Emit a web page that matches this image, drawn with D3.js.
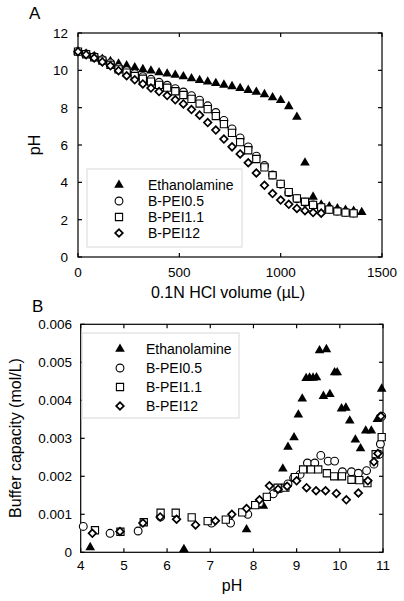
<!DOCTYPE html>
<html><head><meta charset="utf-8">
<script src="https://cdn.jsdelivr.net/npm/d3@7"></script>
<style>body{margin:0;background:#fff}svg{display:block}text{font-family:"Liberation Sans",Arial,sans-serif;fill:#000}</style>
</head><body>
<svg id="c" width="404" height="601"></svg>
<script>
// ---------- Panel A data: pH vs 0.1N HCl volume (µL) ----------
const volEthanol = [0,40,80,120,160,200,240,280,320,360,400,440,480,520,560,600,640,680,720,760,800,840,880,920,960,1000,1040,1080,1120,1160,1200,1240,1280,1320,1360,1400];
const phEthanol  = [11.0,10.88,10.75,10.6,10.48,10.35,10.25,10.15,10.05,9.98,9.88,9.82,9.75,9.67,9.56,9.47,9.39,9.31,9.22,9.14,9.04,8.94,8.84,8.71,8.54,8.4,8.07,7.5,5.05,3.22,2.8,2.7,2.6,2.52,2.46,2.4];
const volPEI05 = [0,40,80,120,160,200,240,280,320,360,400,440,480,520,560,600,640,680,720,760,800,840,880,920,960,1000,1040,1080,1120,1160,1200,1240,1280,1320,1360];
const phPEI05  = [11.0,10.88,10.73,10.57,10.4,10.15,9.98,9.82,9.66,9.52,9.36,9.2,9.02,8.84,8.64,8.4,8.1,7.74,7.32,6.86,6.38,5.9,5.4,4.9,4.4,3.9,3.45,3.12,2.93,2.79,2.67,2.55,2.46,2.4,2.36];
const volPEI11 = [0,40,80,120,160,200,240,280,320,360,400,440,480,520,560,600,640,680,720,760,800,840,880,920,960,1000,1040,1080,1120,1160,1200,1240,1280,1320,1360];
const phPEI11  = [11.0,10.86,10.7,10.52,10.3,10.05,9.88,9.7,9.55,9.4,9.22,9.07,8.88,8.68,8.47,8.22,7.92,7.55,7.12,6.65,6.15,5.72,5.25,4.8,4.38,3.92,3.48,3.14,2.96,2.79,2.66,2.54,2.44,2.38,2.34];
const volPEI12 = [0,40,80,120,160,200,240,280,320,360,400,440,480,520,560,600,640,680,720,760,800,840,880,920,960,1000,1040,1080,1120,1160,1200];
const phPEI12  = [11.0,10.84,10.66,10.45,10.24,9.98,9.71,9.49,9.27,9.05,8.86,8.65,8.42,8.2,7.9,7.6,7.2,6.8,6.32,5.9,5.52,5.05,4.5,3.84,3.4,3.05,2.82,2.6,2.48,2.38,2.35];
const ticksA_x = [0,500,1000,1500];
const ticksA_y = [0,2,4,6,8,10,12];

// ---------- Panel B data: buffer capacity (mol/L) vs pH ----------
const bpHEthanol = [4.22,6.39,7.84,8.23,8.68,8.8,8.94,9.04,9.13,9.22,9.3,9.38,9.46,9.53,9.69,9.62,9.77,9.88,9.94,10.04,10.14,10.23,10.36,10.48,10.6,10.73,10.87,10.97];
const bcEthanol  = [0.00013,0.00008,0.0006,0.00122,0.0022,0.00277,0.00302,0.00362,0.00404,0.00458,0.00459,0.00459,0.0046,0.00531,0.00534,0.00411,0.00416,0.00473,0.00473,0.00378,0.0038,0.00346,0.00296,0.00273,0.0032,0.0032,0.0035,0.0043];
const bpHPEI05 = [4.06,4.68,5.33,5.85,7.03,7.47,7.87,8.14,8.46,8.63,8.8,8.93,9.08,9.25,9.42,9.56,9.73,9.88,10.06,10.27,10.43,10.62,10.79,10.91,10.94,10.97];
const bcPEI05  = [0.00068,0.0005,0.00056,0.00093,0.00077,0.00077,0.00100,0.0013,0.00154,0.00168,0.0018,0.00196,0.00205,0.00235,0.00235,0.00255,0.0024,0.0024,0.00212,0.00212,0.00208,0.00215,0.00232,0.00258,0.00285,0.00358];
const bpHPEI11 = [4.33,4.92,5.46,5.85,6.2,6.57,6.94,7.36,7.74,8.04,8.31,8.56,8.74,8.96,9.15,9.33,9.5,9.7,9.87,10.05,10.27,10.45,10.64,10.83,10.97];
const bcPEI11  = [0.00058,0.00054,0.00079,0.00104,0.00104,0.00092,0.00082,0.00086,0.00105,0.00124,0.00146,0.0017,0.0017,0.00198,0.00218,0.00218,0.00218,0.00208,0.002,0.002,0.00191,0.0019,0.00182,0.00258,0.00303];
const bpHPEI12 = [4.27,4.91,5.44,5.84,6.22,6.66,7.12,7.5,7.84,8.14,8.37,8.57,8.78,9.0,9.23,9.45,9.67,9.92,10.15,10.43,10.65,10.79,10.88,10.95];
const bcPEI12  = [0.0005,0.00055,0.00077,0.00093,0.00087,0.00072,0.00083,0.001,0.00115,0.00138,0.00175,0.00166,0.00174,0.00188,0.0017,0.00162,0.00162,0.00155,0.00138,0.00156,0.00188,0.00238,0.0026,0.00358];
const ticksB_x = [4,5,6,7,8,9,10,11];
const ticksB_y = [0,0.001,0.002,0.003,0.004,0.005,0.006];
const tickLabelsB_y = ["0","0.001","0.002","0.003","0.004","0.005","0.006"];

const seriesNames = ["Ethanolamine","B-PEI0.5","B-PEI1.1","B-PEI12"];
const seriesKinds = ["tri","circle","square","diamond"];

const svg = d3.select("#c");

function marker(g, kind, x, y) {
  if (kind === "tri") {
    g.append("path").attr("d", d3.symbol(d3.symbolTriangle, 40)()).attr("transform", `translate(${x},${y})`).attr("fill", "#000");
  } else if (kind === "circle") {
    g.append("circle").attr("cx", x).attr("cy", y).attr("r", 3.9).attr("fill", "#fff").attr("stroke", "#000").attr("stroke-width", 1.1);
  } else if (kind === "square") {
    g.append("path").attr("d", d3.symbol(d3.symbolSquare, 52)()).attr("transform", `translate(${x},${y})`).attr("fill", "#fff").attr("stroke", "#000").attr("stroke-width", 1.1);
  } else {
    g.append("path").attr("d", d3.symbol(d3.symbolSquare, 29)()).attr("transform", `translate(${x},${y}) rotate(45)`).attr("fill", "#fff").attr("stroke", "#000").attr("stroke-width", 1.7);
  }
}

function frame(g, x, y, xt, yt, xlab, ylab, tickFmtY) {
  const [x0, x1] = x.range(), [y0, y1] = y.range();
  const tl = 4;
  g.append("rect").attr("x", x0).attr("y", y1).attr("width", x1 - x0).attr("height", y0 - y1)
    .attr("fill", "none").attr("stroke", "#000").attr("stroke-width", 1.2);
  xt.forEach(v => {
    const px = x(v);
    g.append("line").attr("x1", px).attr("x2", px).attr("y1", y0).attr("y2", y0 - tl).attr("stroke", "#000").attr("stroke-width", 1.2);
    g.append("line").attr("x1", px).attr("x2", px).attr("y1", y1).attr("y2", y1 + tl).attr("stroke", "#000").attr("stroke-width", 1.2);
    g.append("text").attr("x", px).attr("y", xlab).attr("text-anchor", "middle").attr("font-size", 13.5).text(v);
  });
  yt.forEach((v, i) => {
    const py = y(v);
    g.append("line").attr("x1", x0).attr("x2", x0 + tl).attr("y1", py).attr("y2", py).attr("stroke", "#000").attr("stroke-width", 1.2);
    g.append("line").attr("x1", x1).attr("x2", x1 - tl).attr("y1", py).attr("y2", py).attr("stroke", "#000").attr("stroke-width", 1.2);
    g.append("text").attr("x", ylab).attr("y", py).attr("dy", "0.36em").attr("text-anchor", "end").attr("font-size", 13.5).text(tickFmtY(v, i));
  });
}

function legend(g, x0, y0, w, h, mx, tx, rows) {
  g.append("rect").attr("x", x0).attr("y", y0).attr("width", w).attr("height", h).attr("fill", "#fff").attr("stroke", "#d8d8d8").attr("stroke-width", 1);
  seriesNames.forEach((n, i) => {
    marker(g, seriesKinds[i], mx, rows[i]);
    g.append("text").attr("x", tx).attr("y", rows[i]).attr("dy", "0.36em").attr("font-size", 14).text(n);
  });
}

// ---------- Panel A ----------
const gA = svg.append("g");
const xA = d3.scaleLinear().domain([0, 1500]).range([78, 382]);
const yA = d3.scaleLinear().domain([0, 12]).range([257, 33]);
legend(gA, 87, 169, 155, 78, 119, 148, [185, 201, 217, 233]);
frame(gA, xA, yA, ticksA_x, ticksA_y, 276.5, 68, v => v);
gA.append("text").attr("x", 29).attr("y", 19).attr("font-size", 17).text("A");
gA.append("text").attr("x", 228).attr("y", 298).attr("text-anchor", "middle").attr("font-size", 16).text("0.1N HCl volume (µL)");
gA.append("text").attr("transform", "translate(40,145) rotate(-90)").attr("text-anchor", "middle").attr("font-size", 16).text("pH");
const dataA = [[volEthanol, phEthanol], [volPEI05, phPEI05], [volPEI11, phPEI11], [volPEI12, phPEI12]];
dataA.forEach((d, s) => d[0].forEach((v, i) => marker(gA, seriesKinds[s], xA(v), yA(d[1][i]))));

// ---------- Panel B ----------
const gB = svg.append("g");
const xB = d3.scaleLinear().domain([4, 11]).range([80.7, 383]);
const yB = d3.scaleLinear().domain([0, 0.006]).range([552.3, 324.3]);
frame(gB, xB, yB, ticksB_x, ticksB_y, 570, 72, (v, i) => tickLabelsB_y[i]);
legend(gB, 82, 333, 157, 85, 120, 146, [349, 368, 387, 406]);
gB.append("text").attr("x", 32).attr("y", 312).attr("font-size", 17).text("B");
gB.append("text").attr("x", 232).attr("y", 591).attr("text-anchor", "middle").attr("font-size", 16).text("pH");
gB.append("text").attr("transform", "translate(21,438) rotate(-90)").attr("text-anchor", "middle").attr("font-size", 16).text("Buffer capacity (mol/L)");
const dataB = [[bpHEthanol, bcEthanol], [bpHPEI05, bcPEI05], [bpHPEI11, bcPEI11], [bpHPEI12, bcPEI12]];
dataB.forEach((d, s) => d[0].forEach((v, i) => marker(gB, seriesKinds[s], xB(v), yB(d[1][i]))));
</script>
</body></html>
